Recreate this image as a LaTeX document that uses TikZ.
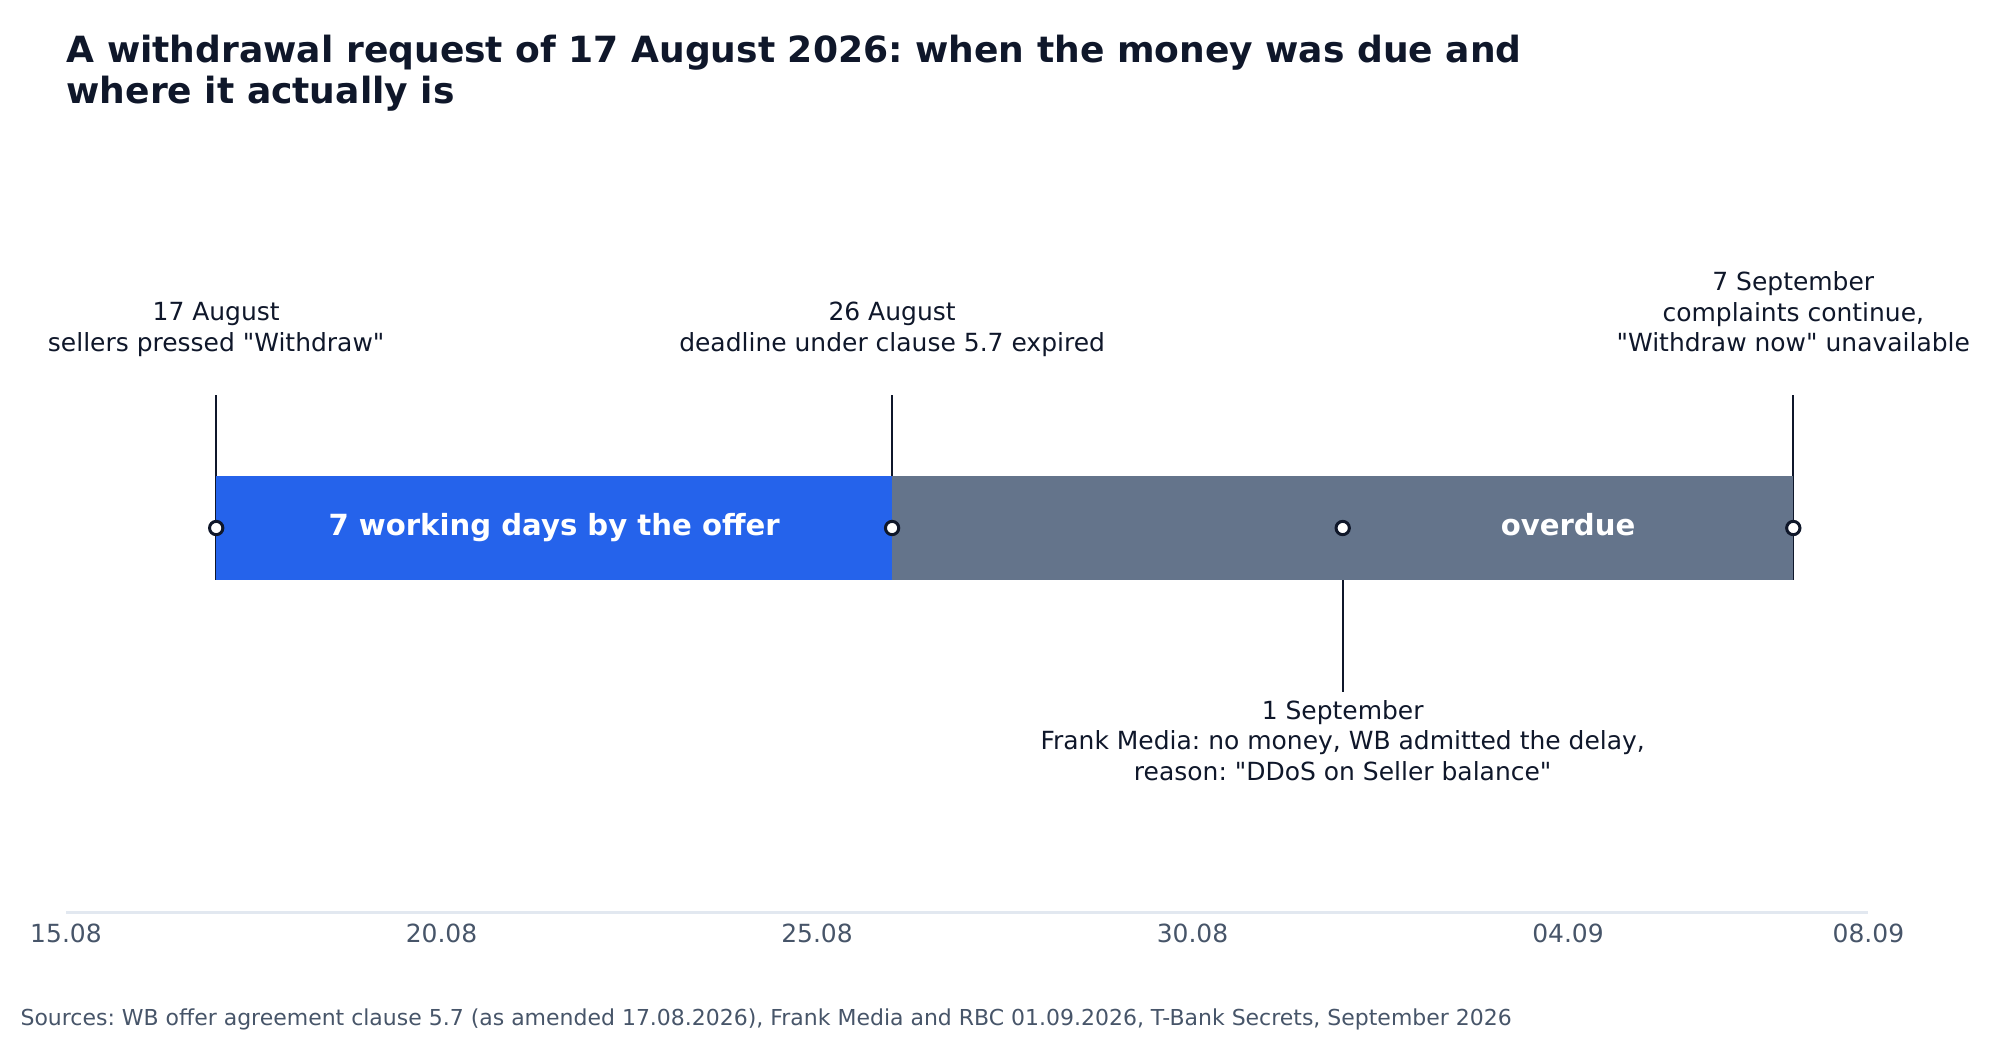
\documentclass[tikz,border=0pt]{standalone}
\usepackage{fontspec}
\setmainfont{DejaVu Sans}[Ligatures=TeXOff]
\frenchspacing
\definecolor{barblue}{HTML}{2563EB}
\definecolor{bargray}{HTML}{64748B}
\definecolor{inkdark}{HTML}{0F172A}
\definecolor{ticktext}{HTML}{475569}
\definecolor{axisline}{HTML}{E2E8F0}
\begin{document}
\begin{tikzpicture}[x=0.005in,y=-0.005in,
  titletext/.style={font=\fontsize{13bp}{14.76bp}\selectfont\bfseries, text=inkdark, align=left, anchor=north west, inner sep=0pt},
  evlabel/.style={font=\fontsize{9bp}{11bp}\selectfont, text=inkdark, align=center, inner sep=0pt},
  ticklabel/.style={font=\fontsize{9bp}{11bp}\selectfont, text=ticktext, anchor=north, inner sep=0pt},
  barlabel/.style={font=\fontsize{10.5bp}{12bp}\selectfont\bfseries, text=white, anchor=base, inner sep=0pt},
  srclabel/.style={font=\fontsize{7.92bp}{10bp}\selectfont, text=ticktext, anchor=base west, inner sep=0pt},
  leader/.style={draw=inkdark, line width=0.8bp},
  marker/.style={circle, draw=inkdark, fill=white, line width=1.08bp, minimum size=4.8bp, inner sep=0pt},
  axisrule/.style={draw=axisline, line width=0.8bp}
]
\useasboundingbox (0,0) rectangle (2000,1040);

% title
\node[titletext] (title) at (66,34.3) {A withdrawal request of 17 August 2026: when the money was due and\\where it actually is};

% coordinates of events
\coordinate (a17top) at (216.2,395);
\coordinate (a17bot) at (216.2,580);
\coordinate (a26top) at (892.1,395);
\coordinate (a26bot) at (892.1,580);
\coordinate (s07top) at (1793.3,395);
\coordinate (s07bot) at (1793.3,580);
\coordinate (s01top) at (1342.7,528);
\coordinate (s01bot) at (1342.7,692);

% leader lines
\draw[leader] (a17top) -- (a17bot);
\draw[leader] (a26top) -- (a26bot);
\draw[leader] (s07top) -- (s07bot);
\draw[leader] (s01top) -- (s01bot);

% bars
\fill[barblue] (216.2,476) rectangle (892.1,580);
\fill[bargray] (892.1,476) rectangle (1793.3,580);
\node[barlabel] (lblwork) at (554.15,535) {7 working days by the offer};
\node[barlabel] (lbloverdue) at (1568,535) {overdue};

% markers
\node[marker] (m17) at (216.2,528) {};
\node[marker] (m26) at (892.1,528) {};
\node[marker] (m01) at (1342.7,528) {};
\node[marker] (m07) at (1793.3,528) {};

% event labels
\node[evlabel, anchor=north] (l17) at (216.2,301.8) {17 August\\sellers pressed "Withdraw"};
\node[evlabel, anchor=north] (l26) at (892.1,301.8) {26 August\\deadline under clause 5.7 expired};
\node[evlabel, anchor=north] (l07) at (1793.3,271) {7 September\\complaints continue,\\"Withdraw now" unavailable};
\node[evlabel, anchor=north] (l01) at (1342.7,699.8) {1 September\\Frank Media: no money, WB admitted the delay,\\reason: "DDoS on Seller balance"};

% axis
\coordinate (axl) at (66,912.5);
\coordinate (axr) at (1868.4,912.5);
\draw[axisrule] (axl) -- (axr);
\node[ticklabel] (t1) at (66,923) {15.08};
\node[ticklabel] (t2) at (441.5,923) {20.08};
\node[ticklabel] (t3) at (817,923) {25.08};
\node[ticklabel] (t4) at (1192.5,923) {30.08};
\node[ticklabel] (t5) at (1568,923) {04.09};
\node[ticklabel] (t6) at (1868.4,923) {08.09};

% sources
\node[srclabel] (src) at (20,1025) {Sources: WB offer agreement clause 5.7 (as amended 17.08.2026), Frank Media and RBC 01.09.2026, T-Bank Secrets, September 2026};
\end{tikzpicture}
\end{document}
